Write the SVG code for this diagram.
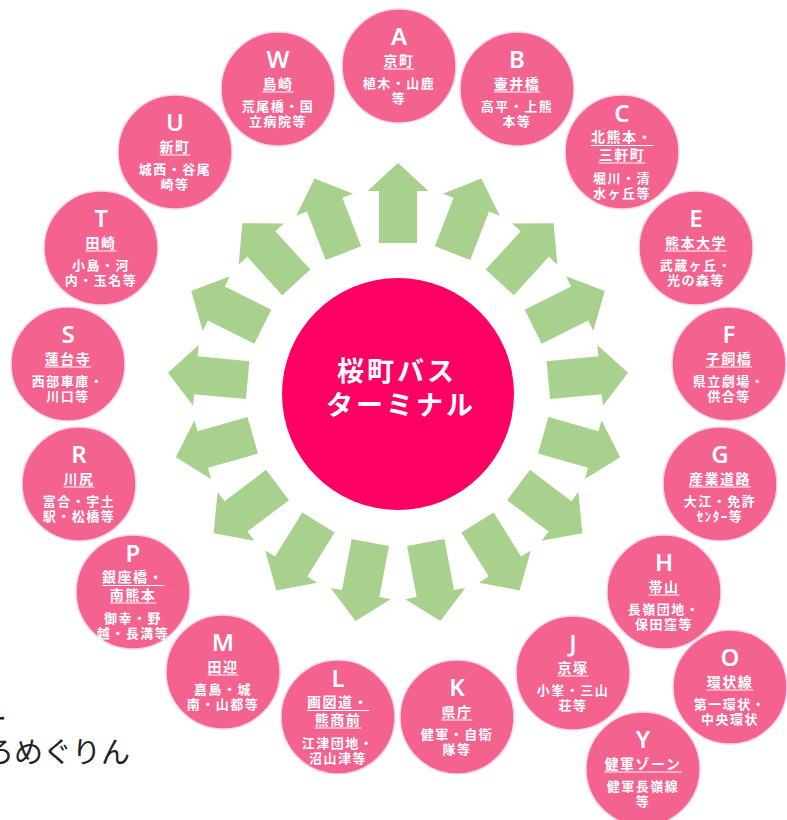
<svg xmlns="http://www.w3.org/2000/svg" xmlns:xlink="http://www.w3.org/1999/xlink" width="787" height="820" viewBox="0 0 787 820">
<style>
.bub{fill:#F4628F;stroke:#FBD5E2;stroke-width:1.5}
.let{font-family:"Noto Sans","Liberation Sans",sans-serif;font-size:24px;font-weight:600;fill:#fff;text-anchor:middle}
.nm{font-family:"Noto Sans CJK JP",sans-serif;font-size:14px;font-weight:700;fill:#fff;text-anchor:middle;letter-spacing:1.5px}
.sb{font-family:"Noto Sans CJK JP",sans-serif;font-size:13px;font-weight:700;fill:#fff;text-anchor:middle;letter-spacing:1.5px}
.ul{stroke:#fff;stroke-width:1}
.arr{fill:#A9D18E}
.ctr{font-family:"Noto Sans CJK JP",sans-serif;font-size:27px;font-weight:700;fill:#fff;text-anchor:middle;letter-spacing:3px}
.side{font-family:"Noto Sans CJK JP",sans-serif;font-size:29px;fill:#222;text-anchor:end}
</style>
<defs>
<polygon id="ar" class="arr" points="-19,-151 -19,-203 -30.5,-203 0,-231 30.5,-203 19,-203 19,-151"/>
</defs>
<rect width="787" height="820" fill="#fff"/>
<g id="connectors">
<use href="#ar" transform="translate(398,394) rotate(0)"/>
<use href="#ar" transform="translate(398,394) rotate(21.176)"/>
<use href="#ar" transform="translate(398,394) rotate(42.353)"/>
<use href="#ar" transform="translate(398,394) rotate(63.529)"/>
<use href="#ar" transform="translate(398,394) rotate(84.706)"/>
<use href="#ar" transform="translate(398,394) rotate(105.882)"/>
<use href="#ar" transform="translate(398,394) rotate(127.059)"/>
<use href="#ar" transform="translate(398,394) rotate(148.235)"/>
<use href="#ar" transform="translate(398,394) rotate(169.412)"/>
<use href="#ar" transform="translate(398,394) rotate(190.588)"/>
<use href="#ar" transform="translate(398,394) rotate(211.765)"/>
<use href="#ar" transform="translate(398,394) rotate(232.941)"/>
<use href="#ar" transform="translate(398,394) rotate(254.118)"/>
<use href="#ar" transform="translate(398,394) rotate(275.294)"/>
<use href="#ar" transform="translate(398,394) rotate(296.471)"/>
<use href="#ar" transform="translate(398,394) rotate(317.647)"/>
<use href="#ar" transform="translate(398,394) rotate(338.824)"/>
</g>
<g id="center">
<circle cx="398" cy="394" r="116" fill="#FE0064"/>
<text class="ctr" x="397" y="381">桜町バス</text>
<text class="ctr" x="401" y="415">ターミナル</text>
</g>
<g id="nodeA"><circle class="bub" cx="399" cy="66" r="57"/>
<text class="let" x="399" y="45">A</text><text class="nm" x="399" y="66">京町</text><line class="ul" x1="383.5" y1="69" x2="414.5" y2="69"/>
<text class="sb" x="399" y="88">植木・山鹿</text><text class="sb" x="399" y="103">等</text></g>
<g id="nodeB"><circle class="bub" cx="517" cy="89" r="57"/>
<text class="let" x="517" y="68">B</text><text class="nm" x="517" y="89">壷井橋</text><line class="ul" x1="493.8" y1="92" x2="540.2" y2="92"/>
<text class="sb" x="517" y="111">高平・上熊</text><text class="sb" x="517" y="126">本等</text></g>
<g id="nodeC"><circle class="bub" cx="622" cy="152" r="57"/>
<text class="let" x="622" y="122">C</text><text class="nm" x="622" y="142">北熊本・</text><line class="ul" x1="591" y1="145.5" x2="653" y2="145.5"/>
<text class="nm" x="622" y="160">三軒町</text><line class="ul" x1="598.8" y1="163" x2="645.2" y2="163"/>
<text class="sb" x="622" y="183">堀川・清</text><text class="sb" x="622" y="198">水ヶ丘等</text></g>
<g id="nodeE"><circle class="bub" cx="696" cy="248" r="57"/>
<text class="let" x="696" y="227">E</text><text class="nm" x="696" y="248">熊本大学</text><line class="ul" x1="665" y1="251" x2="727" y2="251"/>
<text class="sb" x="696" y="270">武蔵ヶ丘・</text><text class="sb" x="696" y="285">光の森等</text></g>
<g id="nodeF"><circle class="bub" cx="729" cy="364" r="57"/>
<text class="let" x="729" y="343">F</text><text class="nm" x="729" y="364">子飼橋</text><line class="ul" x1="705.8" y1="367" x2="752.2" y2="367"/>
<text class="sb" x="729" y="386">県立劇場・</text><text class="sb" x="729" y="401">供合等</text></g>
<g id="nodeG"><circle class="bub" cx="720" cy="484" r="57"/>
<text class="let" x="720" y="463">G</text><text class="nm" x="720" y="484">産業道路</text><line class="ul" x1="689" y1="487" x2="751" y2="487"/>
<text class="sb" x="720" y="506">大江・免許</text><text class="sb" x="720" y="521">ｾﾝﾀｰ等</text></g>
<g id="nodeH"><circle class="bub" cx="664" cy="592" r="57"/>
<text class="let" x="664" y="571">H</text><text class="nm" x="664" y="592">帯山</text><line class="ul" x1="648.5" y1="595" x2="679.5" y2="595"/>
<text class="sb" x="664" y="614">長嶺団地・</text><text class="sb" x="664" y="629">保田窪等</text></g>
<g id="nodeO"><circle class="bub" cx="730" cy="687" r="57"/>
<text class="let" x="730" y="666">O</text><text class="nm" x="730" y="687">環状線</text><line class="ul" x1="706.8" y1="690" x2="753.2" y2="690"/>
<text class="sb" x="730" y="709">第一環状・</text><text class="sb" x="730" y="724">中央環状</text></g>
<g id="nodeJ"><circle class="bub" cx="573" cy="673" r="57"/>
<text class="let" x="573" y="652">J</text><text class="nm" x="573" y="673">京塚</text><line class="ul" x1="557.5" y1="676" x2="588.5" y2="676"/>
<text class="sb" x="573" y="695">小峯・三山</text><text class="sb" x="573" y="710">荘等</text></g>
<g id="nodeY"><circle class="bub" cx="643" cy="769" r="57"/>
<text class="let" x="643" y="748">Y</text><text class="nm" x="643" y="769">健軍ゾーン</text><line class="ul" x1="604.2" y1="772" x2="681.8" y2="772"/>
<text class="sb" x="643" y="791">健軍長嶺線</text><text class="sb" x="643" y="806">等</text></g>
<g id="nodeK"><circle class="bub" cx="457" cy="717" r="57"/>
<text class="let" x="457" y="696">K</text><text class="nm" x="457" y="717">県庁</text><line class="ul" x1="441.5" y1="720" x2="472.5" y2="720"/>
<text class="sb" x="457" y="739">健軍・自衛</text><text class="sb" x="457" y="754">隊等</text></g>
<g id="nodeL"><circle class="bub" cx="338" cy="717" r="57"/>
<text class="let" x="338" y="687">L</text><text class="nm" x="338" y="707">画図道・</text><line class="ul" x1="307" y1="710.5" x2="369" y2="710.5"/>
<text class="nm" x="338" y="725">熊商前</text><line class="ul" x1="314.8" y1="728" x2="361.2" y2="728"/>
<text class="sb" x="338" y="748">江津団地・</text><text class="sb" x="338" y="763">沼山津等</text></g>
<g id="nodeM"><circle class="bub" cx="223" cy="672" r="57"/>
<text class="let" x="223" y="651">M</text><text class="nm" x="223" y="672">田迎</text><line class="ul" x1="207.5" y1="675" x2="238.5" y2="675"/>
<text class="sb" x="223" y="694">嘉島・城</text><text class="sb" x="223" y="709">南・山都等</text></g>
<g id="nodeP"><circle class="bub" cx="133" cy="592" r="57"/>
<text class="let" x="133" y="562">P</text><text class="nm" x="133" y="582">銀座橋・</text><line class="ul" x1="102" y1="585.5" x2="164" y2="585.5"/>
<text class="nm" x="133" y="600">南熊本</text><line class="ul" x1="109.8" y1="603" x2="156.2" y2="603"/>
<text class="sb" x="133" y="623">御幸・野</text><text class="sb" x="133" y="638">越・長溝等</text></g>
<g id="nodeR"><circle class="bub" cx="79" cy="484" r="57"/>
<text class="let" x="79" y="463">R</text><text class="nm" x="79" y="484">川尻</text><line class="ul" x1="63.5" y1="487" x2="94.5" y2="487"/>
<text class="sb" x="79" y="506">富合・宇土</text><text class="sb" x="79" y="521">駅・松橋等</text></g>
<g id="nodeS"><circle class="bub" cx="68" cy="364" r="57"/>
<text class="let" x="68" y="343">S</text><text class="nm" x="68" y="364">蓮台寺</text><line class="ul" x1="44.8" y1="367" x2="91.2" y2="367"/>
<text class="sb" x="68" y="386">西部車庫・</text><text class="sb" x="68" y="401">川口等</text></g>
<g id="nodeT"><circle class="bub" cx="101" cy="248" r="57"/>
<text class="let" x="101" y="227">T</text><text class="nm" x="101" y="248">田崎</text><line class="ul" x1="85.5" y1="251" x2="116.5" y2="251"/>
<text class="sb" x="101" y="270">小島・河</text><text class="sb" x="101" y="285">内・玉名等</text></g>
<g id="nodeU"><circle class="bub" cx="175" cy="152" r="57"/>
<text class="let" x="175" y="131">U</text><text class="nm" x="175" y="152">新町</text><line class="ul" x1="159.5" y1="155" x2="190.5" y2="155"/>
<text class="sb" x="175" y="174">城西・谷尾</text><text class="sb" x="175" y="189">崎等</text></g>
<g id="nodeW"><circle class="bub" cx="278" cy="89" r="57"/>
<text class="let" x="278" y="68">W</text><text class="nm" x="278" y="89">島崎</text><line class="ul" x1="262.5" y1="92" x2="293.5" y2="92"/>
<text class="sb" x="278" y="111">荒尾橋・国</text><text class="sb" x="278" y="126">立病院等</text></g>
<g id="sidetext">
<text class="side" x="7" y="730">ー</text>
<text class="side" x="130" y="763">ろめぐりん</text>
</g>
</svg>
